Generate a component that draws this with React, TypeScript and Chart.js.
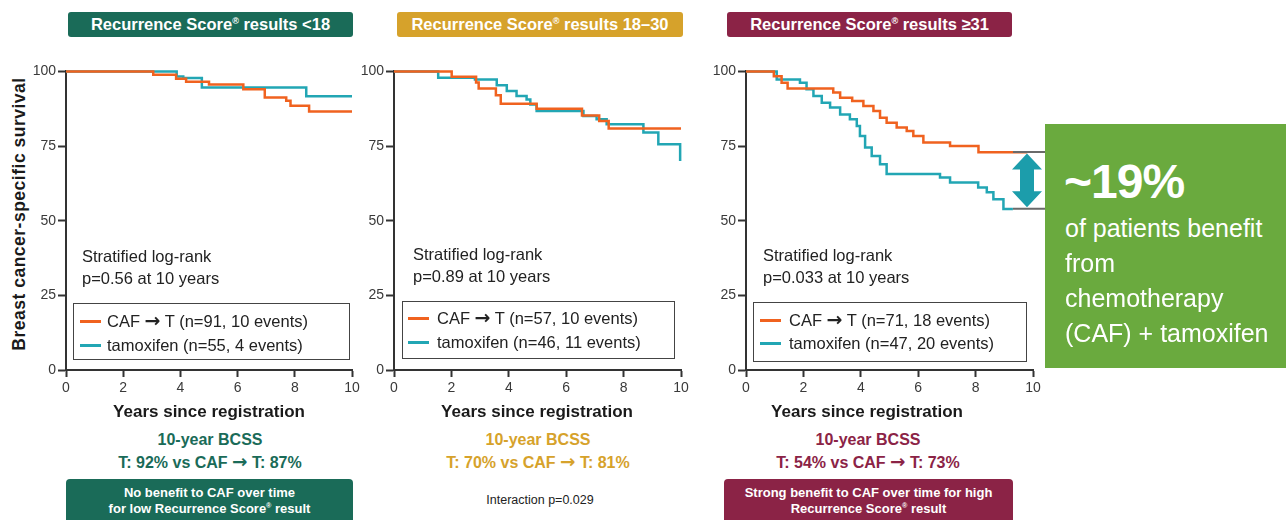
import React, { useEffect, useRef } from "react";
import { Chart, registerables } from "chart.js";

Chart.register(...registerables);

// ---------- data (years since registration / survival %) ----------
const p1CafYears = [0, 3.05, 3.85, 4.2, 5.0, 6.2, 6.95, 7.7, 7.85, 8.5, 10];
const p1CafSurv = [100, 98.9, 97.5, 96.5, 95.6, 94.0, 91.3, 90.2, 88.5, 86.6, 86.6];
const p1TamYears = [0, 3.87, 4.1, 4.75, 8.4, 10];
const p1TamSurv = [100, 98.3, 97.8, 94.6, 91.7, 91.7];

const p2CafYears = [0, 2.01, 2.86, 2.95, 3.55, 3.72, 4.97, 6.55, 7.15, 7.48, 10];
const p2CafSurv = [100, 98.2, 96.3, 94.3, 92.0, 89.2, 87.5, 85.2, 83.4, 80.9, 80.9];
const p2TamYears = [0, 1.54, 2.82, 3.58, 3.93, 4.27, 4.62, 4.75, 4.97, 6.6, 7.06, 7.41, 8.69, 9.21, 9.97];
const p2TamSurv = [100, 97.9, 97.3, 95.4, 93.4, 91.8, 90.6, 88.9, 86.7, 85.1, 84.0, 82.3, 79.5, 75.6, 70.0];

const p3CafYears = [0, 0.97, 1.24, 1.45, 3.04, 3.28, 3.7, 4.09, 4.44, 4.67, 4.9, 5.25, 5.6, 5.83, 6.18, 7.11, 8.1, 9.8];
const p3CafSurv = [100, 98.4, 96.2, 94.3, 92.9, 91.2, 90.1, 88.4, 86.7, 84.5, 82.8, 81.2, 80.0, 78.4, 76.2, 75.0, 72.9, 72.9];
const p3TamYears = [0, 1.07, 1.88, 2.11, 2.35, 2.64, 2.93, 3.28, 3.62, 3.86, 3.97, 4.15, 4.38, 4.67, 4.9, 6.76, 7.11, 8.09, 8.39, 8.62, 8.97, 9.3];
const p3TamSurv = [100, 97.3, 96.2, 94.0, 91.8, 89.5, 87.9, 85.6, 84.0, 81.7, 78.4, 74.5, 71.7, 68.9, 65.6, 64.5, 62.8, 61.1, 59.5, 57.2, 53.9, 53.9];

const p3CafBcss = 73;
const p3TamBcss = 54;

const headerTitles = ["Recurrence Score", "Recurrence Score", "Recurrence Score"];
const headerSuffix = ["results <18", "results 18–30", "results ≥31"];
const pValues = ["p=0.56 at 10 years", "p=0.89 at 10 years", "p=0.033 at 10 years"];
const cafLabels = ["CAF → T (n=91, 10 events)", "CAF → T (n=57, 10 events)", "CAF → T (n=71, 18 events)"];
const tamLabels = ["tamoxifen (n=55, 4 events)", "tamoxifen (n=46, 11 events)", "tamoxifen (n=47, 20 events)"];
const bcssLines = ["T: 92% vs CAF → T: 87%", "T: 70% vs CAF → T: 81%", "T: 54% vs CAF → T: 73%"];

// ---------- styles ----------
const FONT = '"Liberation Sans", Arial, Helvetica, sans-serif';
const ORANGE = "#f0621f";
const TEAL = "#22a6b4";
const GREEN_DARK = "#1a6b58";
const GOLD = "#d6a22b";
const MAROON = "#8b2346";
const PANEL_COLORS = [GREEN_DARK, GOLD, MAROON];

const PLOT_TOP = 71;
const PLOT_H = 299;
const YW = 44;
const PT = 10;
const XH = 40;

type PanelProps = {
  left: number;
  right: number;
  padRight: number;
  cafX: number[];
  cafY: number[];
  tamX: number[];
  tamY: number[];
  extra?: any;
};

function KMPanel({ left, right, padRight, cafX, cafY, tamX, tamY, extra }: PanelProps) {
  const ref = useRef<HTMLCanvasElement>(null);
  const width = YW + (right - left) + padRight;
  const height = PT + PLOT_H + XH;
  useEffect(() => {
    const tickFont = { family: FONT, size: 14 };
    const chart = new Chart(ref.current as HTMLCanvasElement, {
      type: "line",
      data: {
        datasets: [
          {
            label: "CAF → T",
            data: cafX.map((x, i) => ({ x, y: cafY[i] })),
            borderColor: ORANGE,
            borderWidth: 2.5,
            pointRadius: 0,
            stepped: true,
            fill: false,
            clip: false as any,
          },
          {
            label: "tamoxifen",
            data: tamX.map((x, i) => ({ x, y: tamY[i] })),
            borderColor: TEAL,
            borderWidth: 2.5,
            pointRadius: 0,
            stepped: true,
            fill: false,
            clip: false as any,
          },
        ],
      },
      options: {
        responsive: false,
        animation: false,
        events: [],
        layout: { padding: { top: PT, right: padRight, left: 0, bottom: 0 } },
        plugins: { legend: { display: false }, tooltip: { enabled: false } },
        scales: {
          x: {
            type: "linear",
            min: 0,
            max: 10,
            ticks: { stepSize: 2, font: tickFont, color: "#3a3a3a", padding: 3, maxRotation: 0 },
            grid: { display: true, drawOnChartArea: false, drawTicks: true, tickLength: 7, tickWidth: 2, tickColor: "#333", color: "#333" },
            border: { display: true, color: "#333", width: 2 },
            afterFit: (s: any) => {
              s.height = XH;
            },
          },
          y: {
            type: "linear",
            min: 0,
            max: 100,
            ticks: { stepSize: 25, font: tickFont, color: "#3a3a3a", padding: 2 },
            grid: { display: true, drawOnChartArea: false, drawTicks: true, tickLength: 8, tickWidth: 2, tickColor: "#333", color: "#333" },
            border: { display: true, color: "#333", width: 2 },
            afterFit: (s: any) => {
              s.width = YW;
            },
          },
        },
      },
      plugins: extra ? [extra] : [],
    } as any);
    return () => chart.destroy();
  }, []);
  return (
    <canvas
      ref={ref}
      width={width}
      height={height}
      style={{ position: "absolute", left: left - YW, top: PLOT_TOP - PT, width, height }}
    />
  );
}

const gapPlugin = {
  id: "gapArrow",
  afterDatasetsDraw(chart: any) {
    const { ctx, chartArea, scales } = chart;
    const y = scales.y;
    const yTop = y.getPixelForValue(p3CafBcss);
    const yBot = y.getPixelForValue(p3TamBcss);
    const x0 = chartArea.right - 20;
    const x1 = chart.width;
    ctx.save();
    ctx.strokeStyle = "#6a6a6a";
    ctx.lineWidth = 2;
    ctx.beginPath();
    ctx.moveTo(x0, yTop);
    ctx.lineTo(x1, yTop);
    ctx.moveTo(x0, yBot);
    ctx.lineTo(x1, yBot);
    ctx.stroke();
    const cx = chartArea.right - 6;
    const hw = 15;
    const sw = 7;
    const hl = 16;
    const t = yTop + 1.5;
    const b = yBot - 1.5;
    ctx.fillStyle = "#1c9dab";
    ctx.beginPath();
    ctx.moveTo(cx, t);
    ctx.lineTo(cx + hw, t + hl);
    ctx.lineTo(cx + sw, t + hl);
    ctx.lineTo(cx + sw, b - hl);
    ctx.lineTo(cx + hw, b - hl);
    ctx.lineTo(cx, b);
    ctx.lineTo(cx - hw, b - hl);
    ctx.lineTo(cx - sw, b - hl);
    ctx.lineTo(cx - sw, t + hl);
    ctx.lineTo(cx - hw, t + hl);
    ctx.closePath();
    ctx.fill();
    ctx.restore();
  },
};

const abs = (s: React.CSSProperties): React.CSSProperties => ({ position: "absolute", whiteSpace: "nowrap", fontFamily: FONT, ...s });

// render "→" with a font that has a bold, full-size arrow
function WithArrow({ text }: { text: string }) {
  const parts = text.split("→");
  return (
    <>
      {parts.map((p, i) => (
        <React.Fragment key={i}>
          {p}
          {i < parts.length - 1 ? (
            <span style={{ fontFamily: '"DejaVu Sans", sans-serif', fontWeight: "bold", fontSize: "1.15em", lineHeight: 1 }}>→</span>
          ) : null}
        </React.Fragment>
      ))}
    </>
  );
}

function CText({ x, y, children, style }: any) {
  return <div style={abs({ left: x, top: y, transform: "translate(-50%, -50%)", ...style })}>{children}</div>;
}
function LText({ x, y, children, style }: any) {
  return <div style={abs({ left: x, top: y, transform: "translateY(-50%)", ...style })}>{children}</div>;
}

const Reg = () => (
  <span style={{ fontSize: "0.55em", position: "relative", top: "-0.7em" }}>®</span>
);

function Header({ left, width, idx }: any) {
  return (
    <div
      style={abs({
        left,
        top: 12,
        width,
        height: 25,
        background: PANEL_COLORS[idx],
        borderRadius: 3,
        color: "#fff",
        fontWeight: "bold",
        fontSize: 16.5,
        display: "flex",
        alignItems: "center",
        justifyContent: "center",
      })}
    >
      <span>
        {headerTitles[idx]}
        <Reg /> {headerSuffix[idx]}
      </span>
    </div>
  );
}

function LegendBlock({ idx, boxL, boxT, boxR, boxB, textX, textY1, rowY1, rowY2, sampleX, labelX }: any) {
  const txt = { fontSize: 16.5, color: "#222" };
  return (
    <>
      <LText x={textX} y={textY1} style={txt}>Stratified log-rank</LText>
      <LText x={textX} y={textY1 + 22} style={txt}>{pValues[idx]}</LText>
      <div style={abs({ left: boxL, top: boxT, width: boxR - boxL, height: boxB - boxT, border: "1.3px solid #444", boxSizing: "border-box" })} />
      <div style={abs({ left: sampleX, top: rowY1 - 1.5, width: 21, height: 3, background: ORANGE })} />
      <div style={abs({ left: sampleX, top: rowY2 - 1.5, width: 21, height: 3, background: TEAL })} />
      <LText x={labelX} y={rowY1} style={txt}><WithArrow text={cafLabels[idx]} /></LText>
      <LText x={labelX} y={rowY2} style={txt}>{tamLabels[idx]}</LText>
    </>
  );
}

export default function App() {
  const xTitle = { fontSize: 17, fontWeight: "bold", color: "#1a1a1a" };
  const bcss = (idx: number) => ({ fontSize: 16, fontWeight: "bold", color: PANEL_COLORS[idx] });
  const footBox = { fontSize: 13, fontWeight: "bold", color: "#fff", lineHeight: "16px", textAlign: "center" as const };
  return (
    <div style={{ position: "absolute", left: 0, top: 0, width: 1286, height: 520, overflow: "hidden", background: "#fff" }}>
      <Header left={68} width={285} idx={0} />
      <Header left={397} width={286} idx={1} />
      <Header left={727} width={285} idx={2} />

      <CText x={19} y={214} style={{ transform: "translate(-50%, -50%) rotate(-90deg)", fontSize: 17.5, fontWeight: "bold", color: "#1a1a1a", letterSpacing: 0.5 }}>
        Breast cancer-specific survival
      </CText>

      <KMPanel left={66} right={352} padRight={14} cafX={p1CafYears} cafY={p1CafSurv} tamX={p1TamYears} tamY={p1TamSurv} />
      <KMPanel left={394} right={681} padRight={14} cafX={p2CafYears} cafY={p2CafSurv} tamX={p2TamYears} tamY={p2TamSurv} />
      <KMPanel left={746} right={1033} padRight={12} cafX={p3CafYears} cafY={p3CafSurv} tamX={p3TamYears} tamY={p3TamSurv} extra={gapPlugin} />

      <LegendBlock idx={0} boxL={73} boxT={303} boxR={350} boxB={360} textX={82} textY1={256} rowY1={321} rowY2={345} sampleX={80} labelX={107} />
      <LegendBlock idx={1} boxL={402} boxT={301} boxR={675} boxB={359} textX={413} textY1={254} rowY1={318} rowY2={342} sampleX={408} labelX={437} />
      <LegendBlock idx={2} boxL={753} boxT={302} boxR={1027} boxB={362} textX={763} textY1={255} rowY1={320} rowY2={343} sampleX={760} labelX={789} />

      <CText x={209} y={412} style={xTitle}>Years since registration</CText>
      <CText x={537} y={412} style={xTitle}>Years since registration</CText>
      <CText x={867} y={412} style={xTitle}>Years since registration</CText>

      <CText x={210} y={440} style={bcss(0)}>10-year BCSS</CText>
      <CText x={210} y={462} style={bcss(0)}><WithArrow text={bcssLines[0]} /></CText>
      <CText x={538} y={440} style={bcss(1)}>10-year BCSS</CText>
      <CText x={538} y={462} style={bcss(1)}><WithArrow text={bcssLines[1]} /></CText>
      <CText x={868} y={440} style={bcss(2)}>10-year BCSS</CText>
      <CText x={868} y={462} style={bcss(2)}><WithArrow text={bcssLines[2]} /></CText>

      <div style={abs({ left: 66, top: 479, width: 287, height: 50, background: GREEN_DARK, borderRadius: 4, ...footBox, paddingTop: 6, boxSizing: "border-box" })}>
        No benefit to CAF over time
        <br />
        for low Recurrence Score<Reg /> result
      </div>
      <CText x={540} y={500} style={{ fontSize: 12.5, color: "#222" }}>Interaction p=0.029</CText>
      <div style={abs({ left: 724, top: 479, width: 289, height: 50, background: MAROON, borderRadius: 4, ...footBox, paddingTop: 6, boxSizing: "border-box" })}>
        Strong benefit to CAF over time for high
        <br />
        Recurrence Score<Reg /> result
      </div>

      <div style={abs({ left: 1045, top: 124, width: 241, height: 244, background: "#6aaa3e" })} />
      <LText x={1064} y={181} style={{ fontSize: 48, fontWeight: "bold", color: "#fff", letterSpacing: -1 }}>~19%</LText>
      <LText x={1065} y={228} style={{ fontSize: 25, color: "#fff" }}>of patients benefit</LText>
      <LText x={1065} y={263} style={{ fontSize: 25, color: "#fff" }}>from</LText>
      <LText x={1065} y={298} style={{ fontSize: 25, color: "#fff" }}>chemotherapy</LText>
      <LText x={1065} y={333} style={{ fontSize: 25, color: "#fff" }}>(CAF) + tamoxifen</LText>
    </div>
  );
}
